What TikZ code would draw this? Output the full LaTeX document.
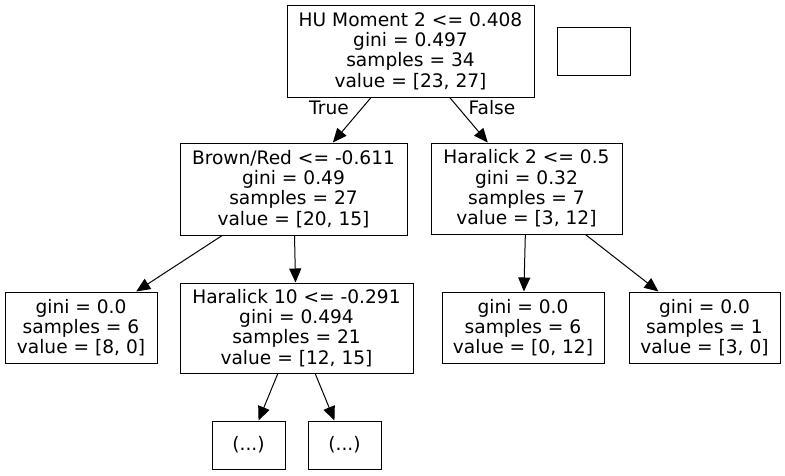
\documentclass[tikz,border=0pt]{standalone}
\usepackage{fontspec}
\setmainfont{DejaVu Sans}
\usetikzlibrary{arrows.meta}
\begin{document}
\begin{tikzpicture}[x=1pt,y=-1pt,
  box/.style={draw=black,line width=1pt,rectangle,inner sep=0pt,align=center,
    font=\fontsize{18.6}{20.3}\selectfont},
  lbl/.style={inner sep=0pt,font=\fontsize{18.6}{20.3}\selectfont},
  edge/.style={draw=black,line width=1pt,-{Triangle[length=14pt,width=12pt]}}]
\useasboundingbox (0,0) rectangle (785,475);
\node[box,minimum width=247pt,minimum height=92pt] (root) at (410.5,51)
  {HU Moment 2 <= 0.408\\gini = 0.497\\samples = 34\\value = [23, 27]};
\node[box,minimum width=73pt,minimum height=48pt] (empty) at (593.5,51) {};
\node[box,minimum width=227pt,minimum height=92pt] (brown) at (293.5,189)
  {Brown/Red <= -0.611\\gini = 0.49\\samples = 27\\value = [20, 15]};
\node[box,minimum width=191pt,minimum height=91pt] (har2) at (526.5,188.5)
  {Haralick 2 <= 0.5\\gini = 0.32\\samples = 7\\value = [3, 12]};
\node[box,minimum width=152pt,minimum height=71pt] (leafa) at (81,327.5)
  {gini = 0.0\\samples = 6\\value = [8, 0]};
\node[box,minimum width=233pt,minimum height=90pt] (har10) at (296.5,328)
  {Haralick 10 <= -0.291\\gini = 0.494\\samples = 21\\value = [12, 15]};
\node[box,minimum width=162pt,minimum height=71pt] (leafb) at (523,327.5)
  {gini = 0.0\\samples = 6\\value = [0, 12]};
\node[box,minimum width=151pt,minimum height=71pt] (leafc) at (704.5,327.5)
  {gini = 0.0\\samples = 1\\value = [3, 0]};
\node[box,minimum width=73pt,minimum height=48pt] (dotsa) at (248.5,445) {(...)};
\node[box,minimum width=73pt,minimum height=48pt] (dotsb) at (344.5,445) {(...)};
\node[lbl] (truel) at (329,108) {True};
\node[lbl] (falsel) at (492,108) {False};
\draw[edge] (root) -- (brown);
\draw[edge] (root) -- (har2);
\draw[edge] (brown) -- (leafa);
\draw[edge] (brown) -- (har10);
\draw[edge] (har2) -- (leafb);
\draw[edge] (har2) -- (leafc);
\draw[edge] (har10) -- (dotsa);
\draw[edge] (har10) -- (dotsb);
\end{tikzpicture}
\end{document}
